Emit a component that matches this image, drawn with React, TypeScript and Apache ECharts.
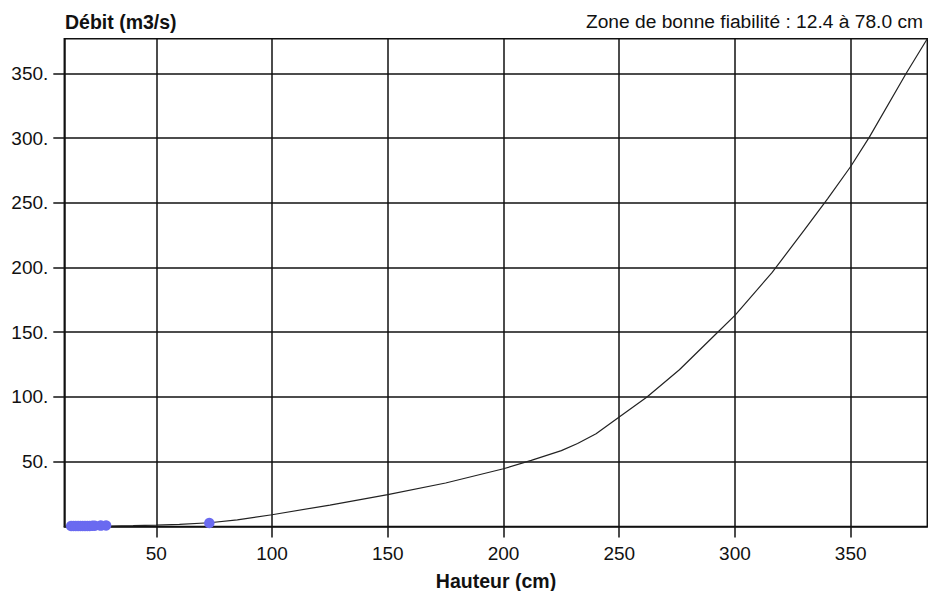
import React, { useEffect, useRef } from "react";
import * as echarts from "echarts";

// Courbe de tarage : hauteur (cm) -> débit (m3/s)
const hauteurCourbe = [10.25, 20, 30, 40, 50, 60, 73, 85, 100, 125, 150, 175, 200, 212, 225, 232, 240, 250, 262, 276, 292, 300, 316, 330, 340, 350, 358, 374, 383.1];
const debitCourbe = [0, 0.1, 0.3, 0.6, 1.0, 1.6, 2.8, 5.0, 9.0, 16.5, 24.5, 33.5, 44.5, 51, 58.5, 64, 71.5, 84.5, 100, 121, 149, 163, 196, 229, 253, 278, 300.5, 350, 376.7];

// Jaugeages
const hauteurJaugeage = [13.2, 14.2, 15.2, 16.2, 17.2, 18.2, 19.2, 20.2, 21.2, 22.4, 23.4, 26.0, 28.3, 72.9];
const debitJaugeage = [0.3, 0.3, 0.3, 0.3, 0.3, 0.4, 0.4, 0.4, 0.4, 0.5, 0.5, 0.6, 0.7, 2.6];

const xTicks = [50, 100, 150, 200, 250, 300, 350];
const yTicks = [50, 100, 150, 200, 250, 300, 350];

const titreY = "Débit (m3/s)";
const titreX = "Hauteur (cm)";
const titreZone = "Zone de bonne fiabilité : 12.4 à 78.0 cm";

const FONT = "'Liberation Sans', Arial, sans-serif";

export default function App() {
  const ref = useRef<HTMLDivElement>(null);
  useEffect(() => {
    document.body.style.margin = "0";
    if (!ref.current) return;
    const chart = echarts.init(ref.current, undefined, { renderer: "svg" });
    const lineColor = "#111";
    chart.setOption({
      animation: false,
      backgroundColor: "#fff",
      grid: {
        left: 64.3,
        right: 0.7,
        top: 38.7,
        bottom: 64.6,
        show: true,
        borderColor: lineColor,
        borderWidth: 1.5,
        backgroundColor: "transparent",
      },
      xAxis: {
        type: "value",
        min: 10.25,
        max: 383.1,
        axisLine: { show: true, onZero: false, lineStyle: { color: lineColor, width: 1.5 } },
        axisTick: { show: true, length: 11, customValues: xTicks, lineStyle: { color: lineColor, width: 1.5 } },
        axisLabel: {
          customValues: xTicks,
          margin: 18,
          fontSize: 19,
          color: "#111",
          fontFamily: FONT,
        },
        splitLine: { show: true, lineStyle: { color: lineColor, width: 1.5 } },
      },
      yAxis: {
        type: "value",
        min: 0,
        max: 376.7,
        axisLine: { show: true, onZero: false, lineStyle: { color: lineColor, width: 1.5 } },
        axisTick: { show: true, length: 11, customValues: yTicks, lineStyle: { color: lineColor, width: 1.5 } },
        axisLabel: {
          customValues: yTicks,
          margin: 16,
          fontSize: 19,
          color: "#111",
          fontFamily: FONT,
          formatter: (v: number) => `${v}.`,
        },
        splitLine: { show: true, lineStyle: { color: lineColor, width: 1.5 } },
      },
      graphic: [
        {
          type: "text",
          left: 65,
          top: 12,
          style: {
            text: titreY,
            fontSize: 19.5,
            fontWeight: "bold",
            fontFamily: FONT,
            fill: "#111",
          },
        },
        {
          type: "text",
          right: 5,
          top: 12,
          style: {
            text: titreZone,
            fontSize: 19.2,
            fontFamily: FONT,
            fill: "#111",
          },
        },
        {
          type: "text",
          x: 496,
          y: 581,
          style: {
            text: titreX,
            fontSize: 19.5,
            fontWeight: "bold",
            fontFamily: FONT,
            fill: "#111",
            align: "center",
            verticalAlign: "middle",
          },
        },
      ],
      series: [
        {
          type: "line",
          data: hauteurCourbe.map((h, i) => [h, debitCourbe[i]]),
          showSymbol: false,
          symbol: "none",
          lineStyle: { color: "#222", width: 1.2 },
          z: 2,
        },
        {
          type: "scatter",
          data: hauteurJaugeage.map((h, i) => [h, debitJaugeage[i]]),
          symbol: "circle",
          symbolSize: 10.5,
          clip: false,
          itemStyle: { color: "#6a6af0", opacity: 1 },
          z: 3,
        },
      ],
    });
    return () => chart.dispose();
  }, []);
  return (
    <div
      ref={ref}
      style={{ position: "fixed", left: 0, top: 0, width: 928, height: 591 }}
    />
  );
}
